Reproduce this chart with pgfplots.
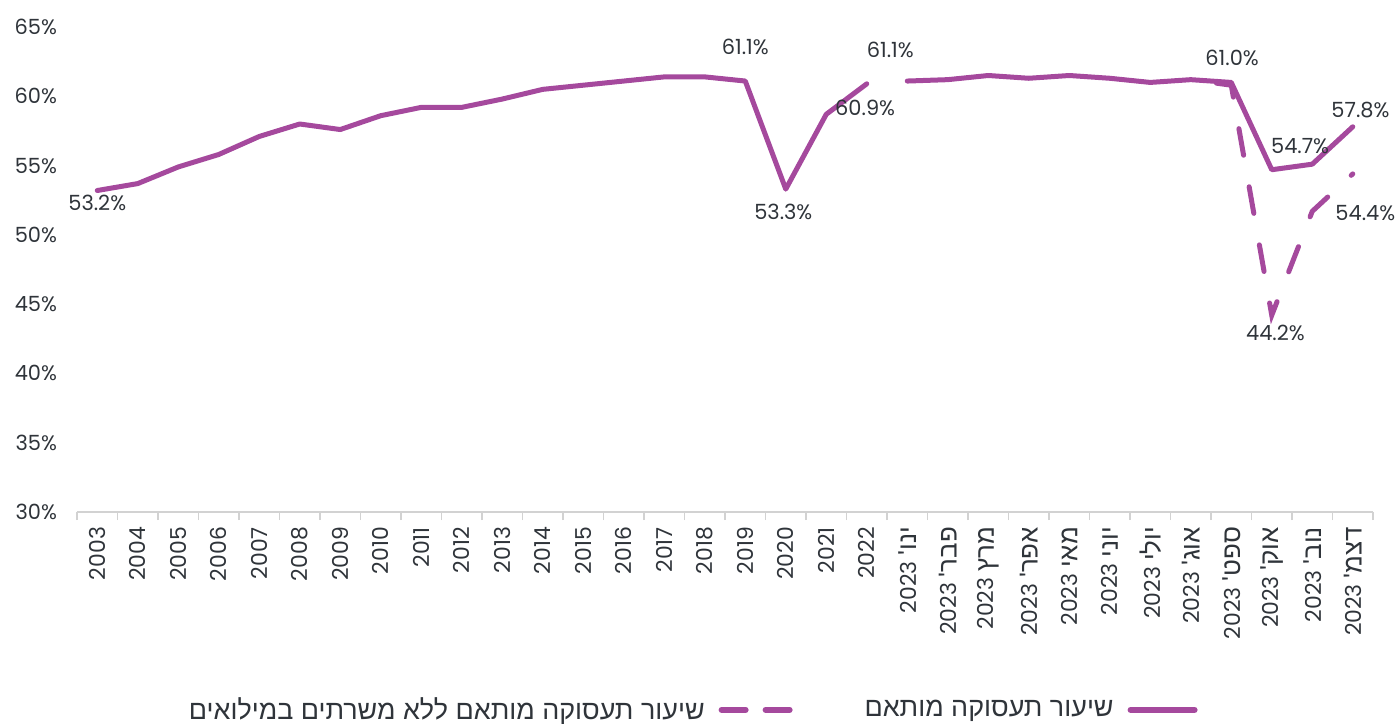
\documentclass[border=0pt]{standalone}
\usepackage{fontspec}
\usepackage{pgfplots}
\pgfplotsset{compat=1.18}
\setmainfont{Poppins}
\newfontfamily\heb[Script=Hebrew]{Liberation Sans}
\TeXXeTstate=1
\definecolor{pur}{HTML}{A5499D}
\definecolor{txt}{HTML}{2F343A}
\definecolor{axgray}{HTML}{D2D2D2}
\newcommand{\mo}[1]{2023 {\heb\fontsize{13}{14}\selectfont\beginR #1\endR}}
\begin{document}
\begin{tikzpicture}
\useasboundingbox (-38.5bp,-106bp) rectangle (661.5bp,256bp);
\begin{axis}[
  scale only axis, width=648bp, height=242.5bp,
  xmin=-0.5, xmax=31.5, ymin=30, ymax=65,
  clip=false,
  separate axis lines,
  axis x line*=bottom, axis y line*=left,
  x axis line style={-, draw=axgray, line width=0.8bp},
  y axis line style={draw=none},
  tick align=outside,
  major tick length=0pt, minor tick length=4bp,
  major tick style={draw=none},
  minor tick style={draw=axgray, line width=0.8bp},
  xtick={0,...,31},
  minor xtick={-0.5,0.5,...,31.5},
  xticklabels={2003,2004,2005,2006,2007,2008,2009,2010,2011,2012,2013,2014,2015,2016,2017,2018,2019,2020,2021,2022,
    {\mo{ינו'}},{\mo{פבר'}},{\mo{מרץ}},{\mo{אפר'}},{\mo{מאי}},{\mo{יוני}},{\mo{יולי}},{\mo{אוג'}},{\mo{ספט'}},{\mo{אוק'}},{\mo{נוב'}},{\mo{דצמ'}}},
  ytick={30,35,40,45,50,55,60,65},
  yticklabels={30\%,35\%,40\%,45\%,50\%,55\%,60\%,65\%},
  tick label style={font=\fontsize{10.5}{12}\selectfont, text=txt},
  xticklabel style={rotate=90, anchor=east, font=\fontsize{11}{12}\selectfont},
  xticklabel shift=4bp,
  yticklabel shift=6.5bp,
  legend columns=2,
  legend plot pos=right,
  legend style={draw=none, fill=none, at={(axis description cs:0.474,-0.408)}, anchor=center,
    font=\heb\fontsize{13.5}{15}\selectfont, text=txt,
    /tikz/every even column/.append style={column sep=34bp},
    /tikz/every odd column/.append style={column sep=5bp}},
]
% dashed series (Aug-Dec 2023)
\addplot[pur, line width=2.5bp, line cap=round, dash pattern=on 13.5bp off 16bp, dash phase=16.5bp, forget plot]
  coordinates {(27,61.2) (28,60.8) (29,44.2) (30,51.7) (31,54.4)};
% solid series: annual 2003-2022
\addplot[pur, line width=2.5bp, line join=round, line cap=round, forget plot]
  coordinates {(0,53.2) (1,53.7) (2,54.9) (3,55.8) (4,57.1) (5,58.0) (6,57.6) (7,58.6) (8,59.2) (9,59.2)
   (10,59.8) (11,60.5) (12,60.8) (13,61.1) (14,61.4) (15,61.4) (16,61.1) (17,53.3) (18,58.7) (19,60.9)};
% solid series: monthly 2023
\addplot[pur, line width=2.5bp, line join=round, line cap=round, forget plot]
  coordinates {(20,61.1) (21,61.2) (22,61.5) (23,61.3) (24,61.5) (25,61.3) (26,61.0) (27,61.2) (28,61.0)
   (29,54.7) (30,55.1) (31,57.8)};
\addlegendimage{legend image code/.code={\draw[pur, line width=3bp, line cap=round, dash pattern=on 12bp off 10bp] (0bp,0bp) -- (34bp,0bp);}}
\addlegendentry{\beginR שיעור תעסוקה מותאם ללא משרתים במילואים\endR}
\addlegendimage{legend image code/.code={\draw[pur, line width=3bp, line cap=round] (0bp,0bp) -- (32bp,0bp);}}
\addlegendentry{\beginR שיעור תעסוקה מותאם\endR}
\tikzset{lbl/.style={font=\fontsize{10.5}{12}\selectfont, text=txt, inner sep=0pt}}
\node[lbl] at (axis cs:0,52.31) {53.2\%};
\node[lbl] at (axis cs:16.0,63.57) {61.1\%};
\node[lbl] at (axis cs:16.94,51.66) {53.3\%};
\node[lbl] at (axis cs:19.58,63.36) {61.1\%};
\node[lbl] at (axis cs:18.96,59.17) {60.9\%};
\node[lbl] at (axis cs:28.02,62.78) {61.0\%};
\node[lbl] at (axis cs:29.70,56.43) {54.7\%};
\node[lbl] at (axis cs:31.19,59.03) {57.8\%};
\node[lbl] at (axis cs:31.31,51.59) {54.4\%};
\node[lbl] at (axis cs:29.09,42.92) {44.2\%};
\end{axis}
\end{tikzpicture}
\end{document}
